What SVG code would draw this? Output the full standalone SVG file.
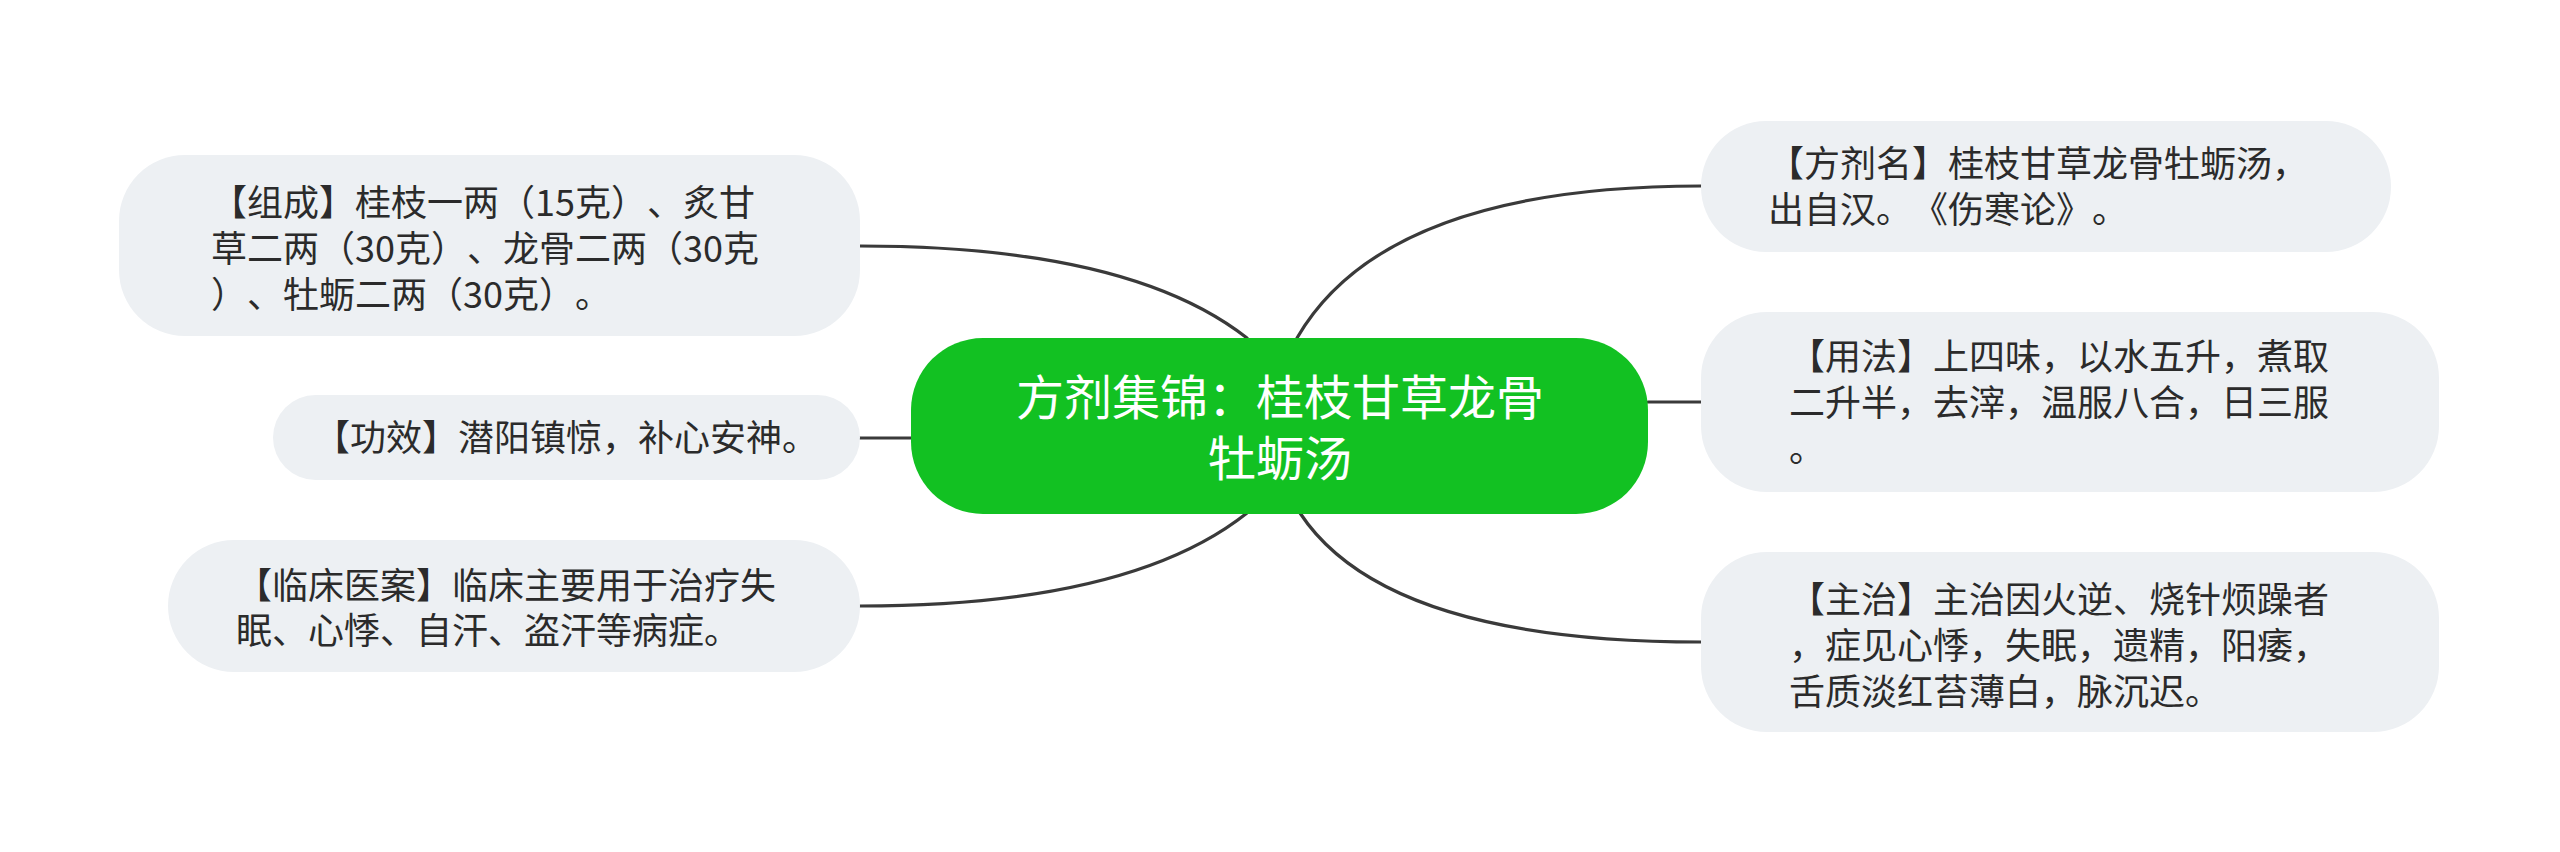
<svg xmlns="http://www.w3.org/2000/svg" width="2560" height="852" viewBox="0 0 2560 852">
<style>
.conn{fill:none;stroke:#3a3a3a;stroke-width:3.2;stroke-linecap:round}
.box{fill:#edf0f3}
.t{font-family:"Noto Sans CJK SC","Noto Sans",sans-serif;font-size:36px;fill:#2b2b2b;text-spacing-trim:space-all;font-feature-settings:"halt" 0,"chws" 0,"palt" 0}
.ct{font-family:"Noto Sans CJK SC","Noto Sans",sans-serif;font-size:48px;fill:#ffffff;text-anchor:middle;text-spacing-trim:space-all;font-feature-settings:"halt" 0,"chws" 0,"palt" 0}
</style>
<rect width="2560" height="852" fill="#ffffff"/>
<g id="connectors">
<path class="conn" d="M860,246 Q1130,246 1247,338"/>
<path class="conn" d="M860,438 L912,438"/>
<path class="conn" d="M860,606 Q1130,606 1247,513"/>
<path class="conn" d="M1297,338 Q1385,186 1701,186"/>
<path class="conn" d="M1648,402 L1701,402"/>
<path class="conn" d="M1300,513 Q1385,642 1701,642"/>
</g>
<g id="center">
<rect x="911" y="338" width="737" height="176" rx="72" ry="72" fill="#12c122"/>
<text class="ct"><tspan x="1280" y="415">方剂集锦：桂枝甘草龙骨</tspan><tspan x="1280" y="476">牡蛎汤</tspan></text>
</g>
<g id="node-zucheng">
<rect class="box" x="119" y="155" width="741" height="181" rx="66" ry="66"/>
<text class="t"><tspan x="211" y="216">【组成】桂枝一两（15克）、炙甘</tspan><tspan x="211" y="262">草二两（30克）、龙骨二两（30克</tspan><tspan x="211" y="308">）、牡蛎二两（30克）。</tspan></text>
</g>
<g id="node-gongxiao">
<rect class="box" x="273" y="395" width="587" height="85" rx="42.5" ry="42.5"/>
<text class="t" x="566" y="451" text-anchor="middle">【功效】潜阳镇惊，补心安神。</text>
</g>
<g id="node-linchuang">
<rect class="box" x="168" y="540" width="692" height="132" rx="66" ry="66"/>
<text class="t"><tspan x="236" y="599">【临床医案】临床主要用于治疗失</tspan><tspan x="236" y="644">眠、心悸、自汗、盗汗等病症。</tspan></text>
</g>
<g id="node-fangjiming">
<rect class="box" x="1701" y="121" width="690" height="131" rx="65" ry="65"/>
<text class="t"><tspan x="1768" y="177">【方剂名】桂枝甘草龙骨牡蛎汤，</tspan><tspan x="1768" y="223">出自汉。《伤寒论》。</tspan></text>
</g>
<g id="node-yongfa">
<rect class="box" x="1701" y="312" width="738" height="180" rx="66" ry="66"/>
<text class="t"><tspan x="1789" y="370">【用法】上四味，以水五升，煮取</tspan><tspan x="1789" y="416">二升半，去滓，温服八合，日三服</tspan><tspan x="1789" y="462">。</tspan></text>
</g>
<g id="node-zhuzhi">
<rect class="box" x="1701" y="552" width="738" height="180" rx="66" ry="66"/>
<text class="t"><tspan x="1789" y="613">【主治】主治因火逆、烧针烦躁者</tspan><tspan x="1789" y="659">，症见心悸，失眠，遗精，阳痿，</tspan><tspan x="1789" y="705">舌质淡红苔薄白，脉沉迟。</tspan></text>
</g>
</svg>
